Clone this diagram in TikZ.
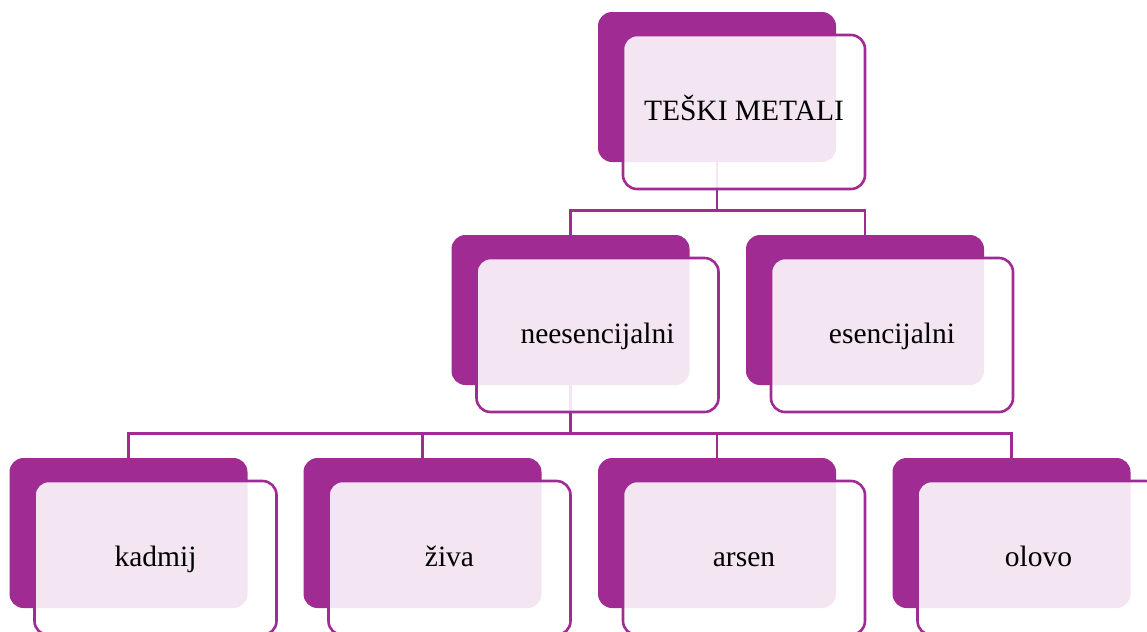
\documentclass[tikz,border=0pt]{standalone}
\usepackage{fontspec}
\setmainfont{Liberation Serif}
\definecolor{plum}{HTML}{A02B93}
\begin{document}
\begin{tikzpicture}[x=0.5pt, y=-0.5pt,
  back/.style={fill=plum, rounded corners=7pt, minimum width=119pt, minimum height=75pt, inner sep=0pt},
  front/.style={draw=plum, line width=1.3pt, fill=white, fill opacity=0.88, text opacity=1, rounded corners=7pt, minimum width=121pt, minimum height=77pt, inner sep=0pt, text height=1.1em, text depth=0.22em, font=\fontsize{14.75}{18}\selectfont, xshift=13.5pt, yshift=-12.5pt},
  conn/.style={draw=plum, line width=1.3pt}]
  \useasboundingbox (0,0) rectangle (1147,632);
  % Back boxes
  \node[back] (bteski) at (717,87) {};
  \node[back] (bnees) at (570.5,310) {};
  \node[back] (besen) at (865,310) {};
  \node[back] (bkadmij) at (128.5,533) {};
  \node[back] (bziva) at (422.5,533) {};
  \node[back] (barsen) at (717,533) {};
  \node[back] (bolovo) at (1011.5,533) {};
  % Connections
  \draw[conn] (bteski.south) -- ++(0,48) -| (bnees.north);
  \draw[conn] (bteski.south) -- ++(0,48) -| (besen.north);
  \foreach \n in {bkadmij,bziva,barsen,bolovo}
    \draw[conn] (bnees.south) -- ++(0,48) -| (\n.north);
  % Front boxes
  \node[front] (teski) at (bteski) {TEŠKI METALI};
  \node[front] (nees) at (bnees) {neesencijalni};
  \node[front] (esen) at (besen) {esencijalni};
  \node[front] (kadmij) at (bkadmij) {kadmij};
  \node[front] (ziva) at (bziva) {živa};
  \node[front] (arsen) at (barsen) {arsen};
  \node[front] (olovo) at (bolovo) {olovo};
\end{tikzpicture}
\end{document}
